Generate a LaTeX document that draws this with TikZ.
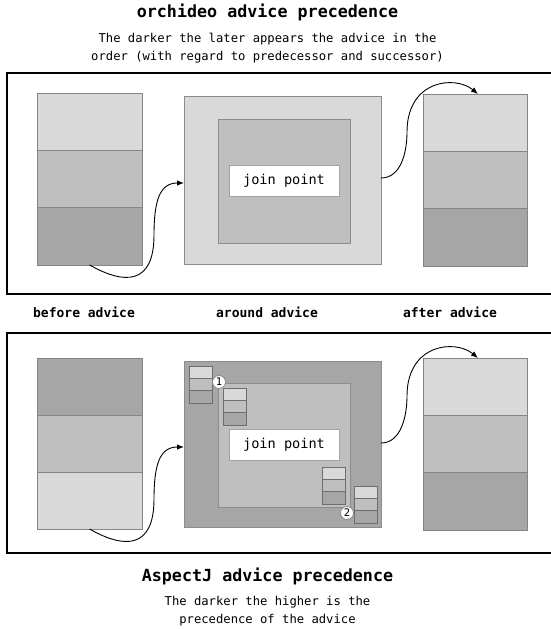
\documentclass[tikz,border=0pt]{standalone}
\usepackage{fontspec}
\setmainfont{DejaVu Sans Mono}
\usetikzlibrary{arrows.meta}

\definecolor{lightband}{HTML}{D9D9D9}
\definecolor{midband}{HTML}{BFBFBF}
\definecolor{darkband}{HTML}{A6A6A6}
\definecolor{bandedge}{HTML}{858585}
\definecolor{boxedge}{HTML}{8C8C8C}
\definecolor{smalledge}{HTML}{6E6E6E}

\tikzset{
  band/.style={draw=bandedge, line width=0.7pt, inner sep=0pt, outer sep=0pt, anchor=north west},
  smallband/.style={draw=smalledge, line width=0.6pt, inner sep=0pt, outer sep=0pt, anchor=north west,
    minimum width=23pt, minimum height=12.3pt},
  panel/.style={draw=boxedge, line width=0.7pt, inner sep=0pt, outer sep=0pt, anchor=north west},
  joinbox/.style={panel, fill=white, draw=boxedge!80, minimum width=110pt, minimum height=31pt,
    font=\fontsize{13.6}{16}\selectfont},
  frameline/.style={line width=2pt, black},
  arr/.style={line width=0.9pt, -{Latex[length=7pt,width=5.5pt]}},
  numdot/.style={circle, draw=bandedge, fill=white, line width=0.7pt, inner sep=0pt, minimum size=13pt,
    font=\fontsize{10.5}{12}\selectfont},
  heading/.style={anchor=base, font=\bfseries\fontsize{16.7}{20}\selectfont},
  subline/.style={anchor=base, font=\fontsize{12.2}{14}\selectfont},
  colhead/.style={anchor=base, font=\bfseries\fontsize{13}{15}\selectfont},
}

% three stacked bands: name, x, y, width, band height, top/middle/bottom colour
\newcommand\mkstack[8]{%
  \node[band, fill=#6, minimum width=#4pt, minimum height=#5pt] (#1a) at (#2,#3) {};
  \node[band, fill=#7, minimum width=#4pt, minimum height=#5pt] (#1b) at (#1a.south west) {};
  \node[band, fill=#8, minimum width=#4pt, minimum height=#5pt] (#1c) at (#1b.south west) {};
}
% small three-band stack inside the around advice
\newcommand\mkmini[3]{%
  \node[smallband, fill=lightband] (#1a) at (#2,#3) {};
  \node[smallband, fill=midband] (#1b) at (#1a.south west) {};
  \node[smallband, fill=darkband] (#1c) at (#1b.south west) {};
}

\begin{document}
\begin{tikzpicture}[x=1pt, y=-1pt]
  \useasboundingbox (0,0) rectangle (551,629);
  \fill[white] (0,0) rectangle (551,629);

  % headings
  \node[heading] (title1) at (267.5,17.3) {orchideo advice precedence};
  \node[subline] (sub1a) at (267.5,42.7) {The darker the later appears the advice in the};
  \node[subline] (sub1b) at (267.5,60) {order (with regard to predecessor and successor)};

  % ---------- upper panel ----------
  \draw[frameline] (560,73) -- (7,73) -- (7,294) -- (560,294);

  \mkstack{bef1}{37}{93}{105}{57.3}{lightband}{midband}{darkband}
  \node[panel, fill=lightband, minimum width=197pt, minimum height=168pt] (aro1) at (184,96) {};
  \node[panel, fill=midband, minimum width=132pt, minimum height=124pt] (aro1in) at (218,119) {};
  \node[joinbox] (jp1) at (229,165) {join point};
  \mkstack{aft1}{423}{94}{104}{57.3}{lightband}{midband}{darkband}

  \coordinate (m1) at (154,235);
  \coordinate (m2) at (407,132);
  \draw[arr] (bef1c.south) .. controls +(35,20) and +(0,50) .. (m1)
    .. controls +(0,-35) and +(-24,0) .. ([yshift=-3pt]aro1.west);
  \draw[arr] ([yshift=2pt]aro1.east) .. controls +(21,0) and +(0,18) .. (m2)
    .. controls +(0,-52) and +(-23,-19) .. ([xshift=3pt]aft1a.north);

  % column headings
  \node[colhead] (hbef) at (84,317) {before advice};
  \node[colhead] (haro) at (267,317) {around advice};
  \node[colhead] (haft) at (450,317) {after advice};

  % ---------- lower panel ----------
  \draw[frameline] (560,333) -- (7,333) -- (7,553) -- (560,553);

  \mkstack{bef2}{37}{358}{105}{57}{darkband}{midband}{lightband}
  \node[panel, fill=darkband, minimum width=197pt, minimum height=166pt] (aro2) at (184,361) {};
  \node[panel, fill=midband, minimum width=132pt, minimum height=124pt] (aro2in) at (218,383) {};
  \node[joinbox] (jp2) at (229,429) {join point};
  \mkmini{sa}{189}{366}
  \mkmini{sb}{223}{388}
  \mkmini{sc}{322}{467}
  \mkmini{sd}{354}{486}
  \node[numdot] (n1) at (219,382) {1};
  \node[numdot] (n2) at (347,513) {2};
  \mkstack{aft2}{423}{358}{104}{57.3}{lightband}{midband}{lightband!0!darkband}

  \coordinate (m3) at (154,499);
  \coordinate (m4) at (407,396);
  \draw[arr] (bef2c.south) .. controls +(35,20) and +(0,50) .. (m3)
    .. controls +(0,-35) and +(-24,0) .. ([yshift=-3pt]aro2.west);
  \draw[arr] ([yshift=1pt]aro2.east) .. controls +(21,0) and +(0,18) .. (m4)
    .. controls +(0,-52) and +(-23,-19) .. ([xshift=3pt]aft2a.north);

  % footer
  \node[heading] (title2) at (267.5,581.7) {AspectJ advice precedence};
  \node[subline] (sub2a) at (267.5,605.7) {The darker the higher is the};
  \node[subline] (sub2b) at (267.5,623.3) {precedence of the advice};
\end{tikzpicture}
\end{document}
